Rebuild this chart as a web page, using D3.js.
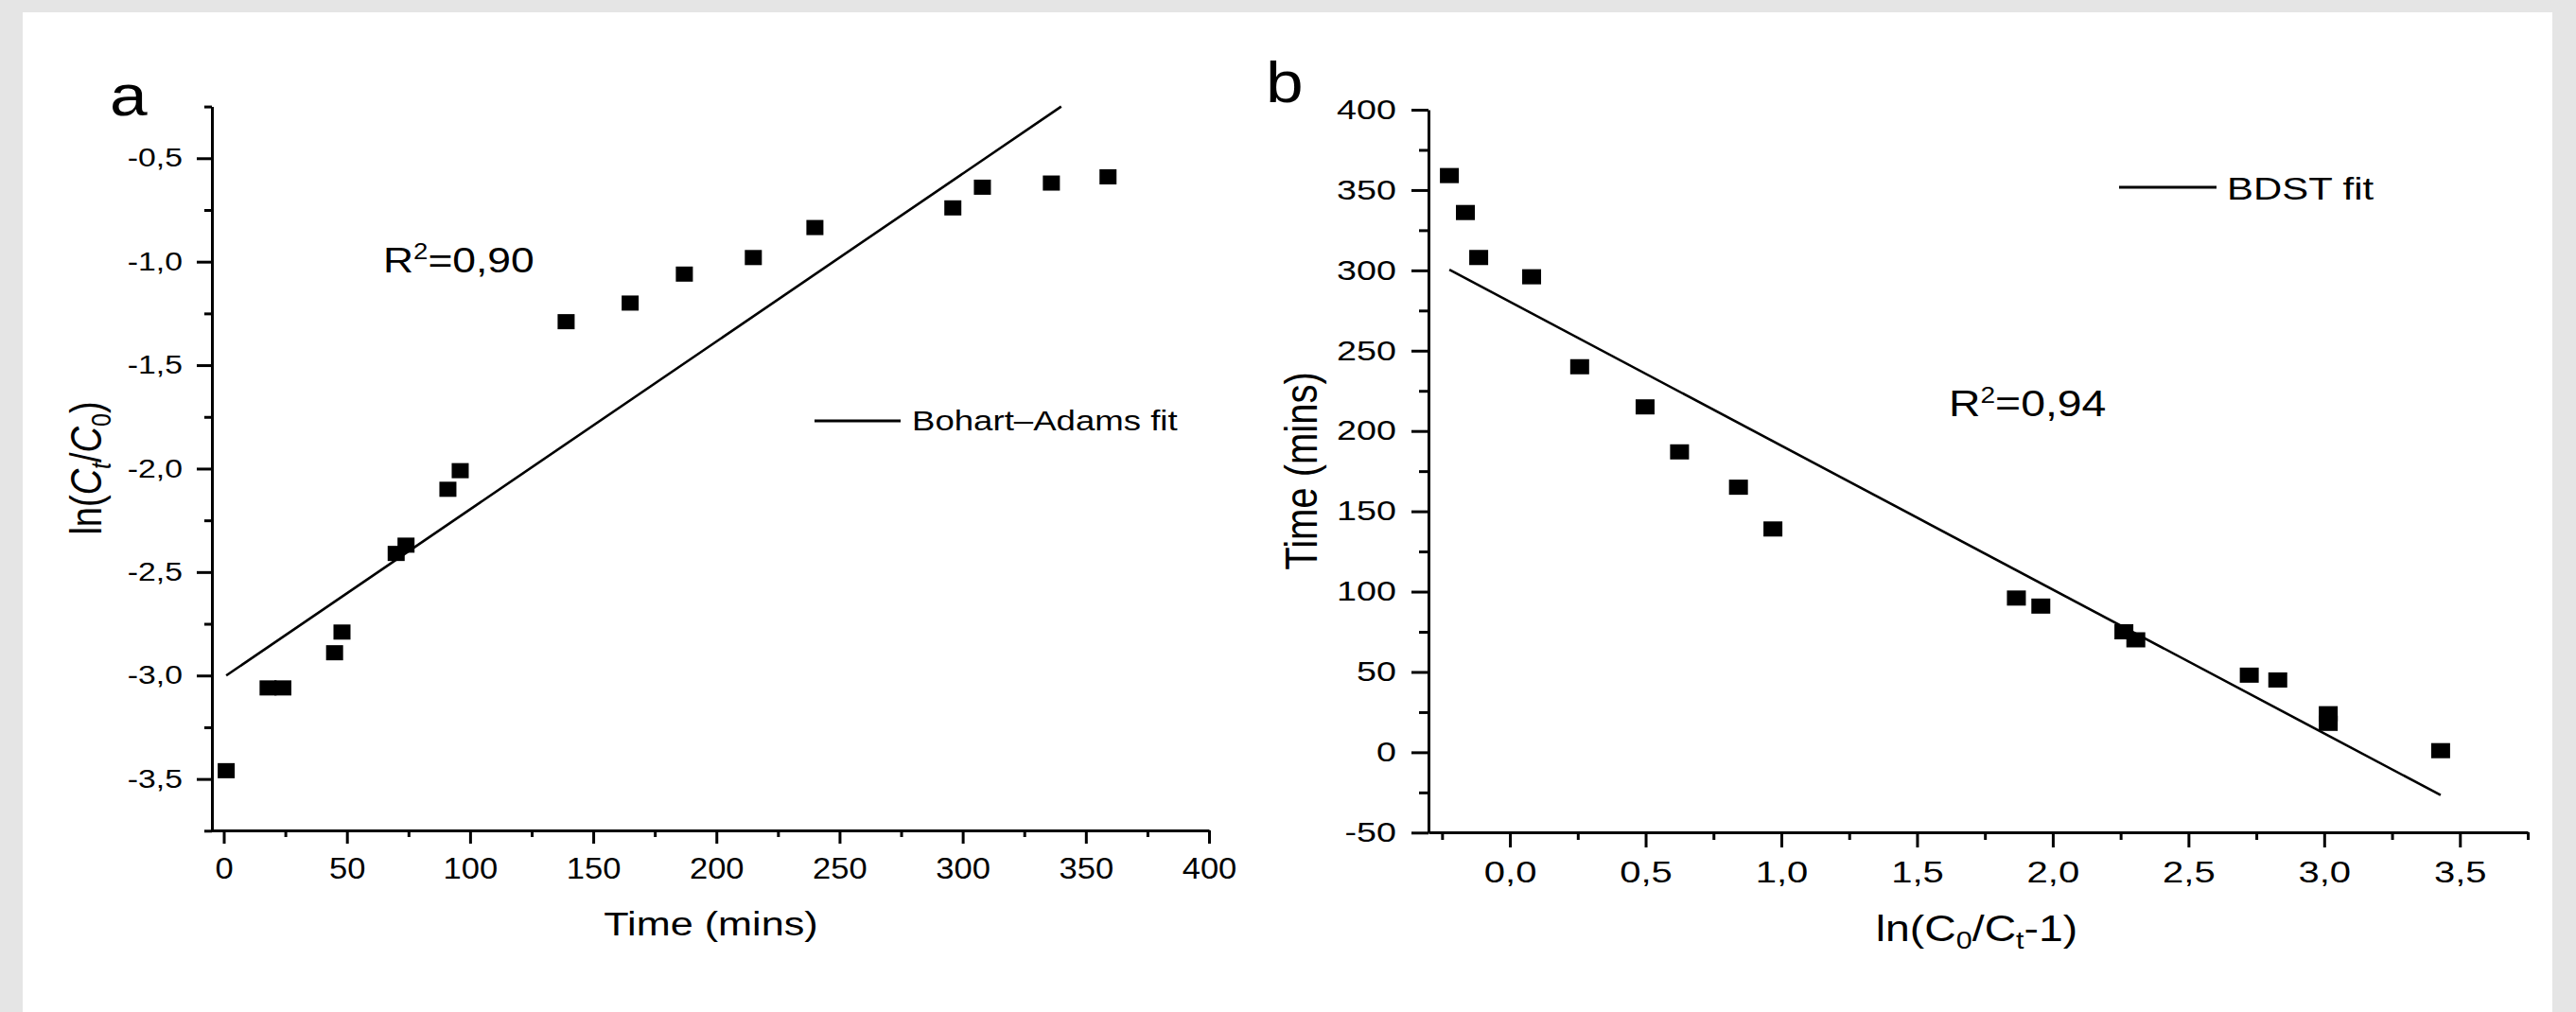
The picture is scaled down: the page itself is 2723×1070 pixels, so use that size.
<!DOCTYPE html>
<html lang="en">
<head>
<meta charset="UTF-8">
<title>Bohart-Adams / BDST</title>
<script src="https://cdn.jsdelivr.net/npm/d3@7"></script>
<style>
  html, body { margin: 0; padding: 0; background: #e5e5e5; }
  svg { display: block; }
</style>
</head>
<body>
<svg></svg>
<script>
  const width = 2723, height = 1070
  const font = '"Liberation Sans", Arial, sans-serif'

  // panel a : ln(Ct/C0) against time
  const timeA = [1, 18, 24, 45, 48, 70, 74, 91, 96, 139, 165, 187, 215, 240, 296, 308, 336, 359]
  const lnA = [-3.46, -3.06, -3.06, -2.89, -2.79, -2.41, -2.37, -2.10, -2.01, -1.29, -1.20, -1.06, -0.98, -0.835, -0.74, -0.64, -0.62, -0.59]
  const fitAx = [1, 340]
  const fitAy = [-3.0, -0.25]
  const ticksAx = [0, 50, 100, 150, 200, 250, 300, 350, 400]
  const minorAx = [25, 75, 125, 175, 225, 275, 325, 375]
  const ticksAy = [-3.5, -3.0, -2.5, -2.0, -1.5, -1.0, -0.5]
  const minorAy = [-3.75, -3.25, -2.75, -2.25, -1.75, -1.25, -0.75, -0.25]

  // panel b : time against ln(C0/Ct-1)
  const lnB = [-0.223, -0.164, -0.115, 0.080, 0.257, 0.498, 0.625, 0.842, 0.969, 1.866, 1.956, 2.262, 2.306, 2.724, 2.829, 3.015, 3.015, 3.429]
  const timeB = [359, 336, 308, 296, 240, 215, 187, 165, 139, 96, 91, 75, 70, 48, 45, 24, 18, 1]
  const fitBx = [-0.223, 3.429]
  const fitBy = [300.4, -26.7]
  const ticksBx = [0, 0.5, 1.0, 1.5, 2.0, 2.5, 3.0, 3.5]
  const minorBx = [-0.25, 0.25, 0.75, 1.25, 1.75, 2.25, 2.75, 3.25, 3.75]
  const ticksBy = [-50, 0, 50, 100, 150, 200, 250, 300, 350, 400]
  const minorBy = [-25, 25, 75, 125, 175, 225, 275, 325, 375]

  const svg = d3.select('svg')
      .attr('width', width)
      .attr('height', height)
      .attr('font-family', font)

  svg.append('rect').attr('width', width).attr('height', height).attr('fill', '#e5e5e5')
  svg.append('rect').attr('x', 24).attr('y', 13).attr('width', 2674).attr('height', height - 13).attr('fill', '#fff')

  // decimal comma and a plain hyphen for the minus sign
  const fmt = f => d => d3.format(f)(d).replace('.', ',').replace('\u2212', '-')

  // the source picture is stretched sideways, so text gets a horizontal scale k
  function text(x, y, size, k, anchor) {
    return svg.append('text')
        .attr('transform', `translate(${x},${y}) scale(${k},1)`)
        .attr('font-size', size)
        .attr('text-anchor', anchor || 'start')
        .attr('fill', '#000')
  }

  function styleAxis(g, size) {
    g.attr('font-family', font).attr('font-size', size)
    g.selectAll('path, line').attr('stroke', '#000').attr('stroke-width', 3)
    g.selectAll('text').attr('fill', '#000')
  }

  function leftAxis(y, x0, major, minor, format, size, len, pad, k) {
    const g = svg.append('g').attr('transform', `translate(${x0},0)`)
        .call(d3.axisLeft(y).tickValues(major).tickFormat(format).tickSize(len[0]).tickPadding(pad).tickSizeOuter(0))
    styleAxis(g, size)
    g.selectAll('.tick text').each(function() {
      const t = d3.select(this), x = +t.attr('x')
      t.attr('x', 0).attr('transform', `translate(${x},0) scale(${k},1)`)
    })
    const m = svg.append('g').attr('transform', `translate(${x0},0)`)
        .call(d3.axisLeft(y).tickValues(minor).tickFormat('').tickSize(len[1]))
    m.select('.domain').remove()
    styleAxis(m, size)
  }

  function bottomAxis(x, y0, major, minor, format, size, len, pad, k) {
    const g = svg.append('g').attr('transform', `translate(0,${y0})`)
        .call(d3.axisBottom(x).tickValues(major).tickFormat(format).tickSize(len[0]).tickPadding(pad).tickSizeOuter(0))
    styleAxis(g, size)
    g.selectAll('.tick text').attr('transform', `scale(${k},1)`)
    const m = svg.append('g').attr('transform', `translate(0,${y0})`)
        .call(d3.axisBottom(x).tickValues(minor).tickFormat('').tickSize(len[1]))
    m.select('.domain').remove()
    styleAxis(m, size)
  }

  function squares(xs, ys, x, y, w, h) {
    svg.append('g').selectAll('rect')
      .data(xs.map((d, i) => [d, ys[i]]))
      .join('rect')
        .attr('x', d => x(d[0]) - w / 2)
        .attr('y', d => y(d[1]) - h / 2)
        .attr('width', w)
        .attr('height', h)
        .attr('fill', '#000')
  }

  function fitLine(xs, ys, x, y) {
    const line = d3.line().x(d => x(d[0])).y(d => y(d[1]))
    svg.append('path')
        .attr('fill', 'none')
        .attr('stroke', '#000')
        .attr('stroke-width', 2.6)
        .attr('d', line(xs.map((d, i) => [d, ys[i]])))
  }

  // ---------- panel a ----------
  const xa = d3.scaleLinear().domain([-5, 400]).range([223.5, 1278])
  const ya = d3.scaleLinear().domain([-3.75, -0.25]).range([878.3, 112.6])

  fitLine(fitAx, fitAy, xa, ya)
  squares(timeA, lnA, xa, ya, 18, 16)
  leftAxis(ya, 224, ticksAy, minorAy, fmt('.1f'), 27, [16, 8], 15, 1.25)
  bottomAxis(xa, 878, ticksAx, minorAx, fmt('d'), 32, [14, 7], 14, 1.08)

  text(116, 122, 62, 1.15).text('a')

  const ra = text(405, 288, 37, 1.2)
  ra.append('tspan').text('R')
  ra.append('tspan').attr('font-size', 23).attr('dy', -14).text('2')
  ra.append('tspan').attr('dy', 14).text('=0,90')

  svg.append('line').attr('x1', 861).attr('x2', 952).attr('y1', 445).attr('y2', 445)
      .attr('stroke', '#000').attr('stroke-width', 3)
  text(964, 455, 30, 1.22).text('Bohart\u2013Adams fit')

  text(751.5, 989, 36, 1.2, 'middle').text('Time (mins)')

  const ta = svg.append('text')
      .attr('transform', 'translate(107,495) rotate(-90) scale(1,1.2)')
      .attr('font-size', 38)
      .attr('text-anchor', 'middle')
  ta.append('tspan').text('ln(')
  ta.append('tspan').attr('font-style', 'italic').text('C')
  ta.append('tspan').attr('font-style', 'italic').attr('font-size', 25).attr('dy', 8).text('t')
  ta.append('tspan').attr('dy', -8).text('/')
  ta.append('tspan').attr('font-style', 'italic').text('C')
  ta.append('tspan').attr('font-size', 25).attr('dy', 8).text('0')
  ta.append('tspan').attr('dy', -8).text(')')

  // ---------- panel b ----------
  const xb = d3.scaleLinear().domain([-0.3, 3.75]).range([1510, 2672])
  const yb = d3.scaleLinear().domain([-50, 400]).range([880.3, 116])

  fitLine(fitBx, fitBy, xb, yb)
  squares(lnB, timeB, xb, yb, 20, 16)
  leftAxis(yb, 1510, ticksBy, minorBy, fmt('d'), 29, [18, 10], 16, 1.3)
  bottomAxis(xb, 880, ticksBx, minorBx, fmt('.1f'), 32, [16, 8], 14, 1.25)

  text(1338, 108, 62, 1.15).text('b')

  const rb = text(2060, 440, 38, 1.22)
  rb.append('tspan').text('R')
  rb.append('tspan').attr('font-size', 23).attr('dy', -14).text('2')
  rb.append('tspan').attr('dy', 14).text('=0,94')

  svg.append('line').attr('x1', 2240).attr('x2', 2343).attr('y1', 198).attr('y2', 198)
      .attr('stroke', '#000').attr('stroke-width', 3)
  text(2354, 211, 33, 1.27).text('BDST fit')

  const tb = text(2089.5, 995, 38, 1.22, 'middle')
  tb.append('tspan').text('ln(C')
  tb.append('tspan').attr('font-size', 25).attr('dy', 8).text('0')
  tb.append('tspan').attr('dy', -8).text('/C')
  tb.append('tspan').attr('font-size', 25).attr('dy', 8).text('t')
  tb.append('tspan').attr('dy', -8).text('-1)')

  svg.append('text')
      .attr('transform', 'translate(1392,498) rotate(-90) scale(1,1.2)')
      .attr('font-size', 40)
      .attr('text-anchor', 'middle')
      .text('Time (mins)')
</script>
</body>
</html>
